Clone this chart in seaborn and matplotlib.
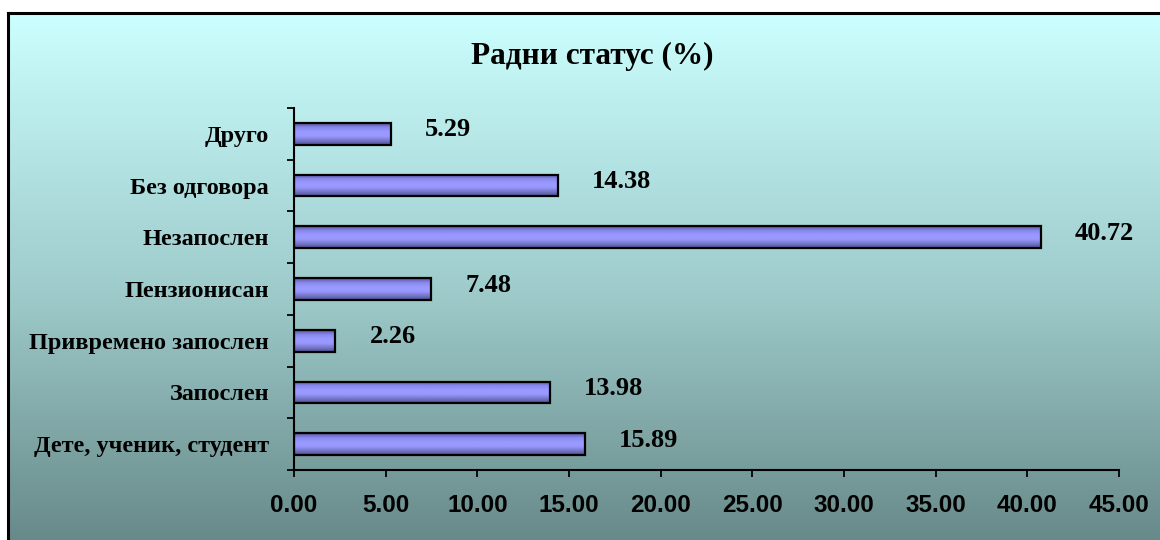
import numpy as np
import matplotlib
matplotlib.use('Agg')
import matplotlib.pyplot as plt
import seaborn as sns
from matplotlib.colors import LinearSegmentedColormap
from matplotlib.ticker import FixedLocator

# data (top to bottom as in the chart)
categories = ['Друго', 'Без одговора', 'Незапослен', 'Пензионисан',
              'Привремено запослен', 'Запослен', 'Дете, ученик, студент']
values = [5.29, 14.38, 40.72, 7.48, 2.26, 13.98, 15.89]
xticks = [0, 5, 10, 15, 20, 25, 30, 35, 40, 45]

sns.set_theme(style='white')
plt.rcParams['font.family'] = ['Liberation Serif', 'DejaVu Serif']
plt.rcParams['text.color'] = 'black'
plt.rcParams['xtick.color'] = 'black'
plt.rcParams['ytick.color'] = 'black'

fig = plt.figure(figsize=(11.6, 5.4), dpi=100)
fig.patch.set_facecolor('white')

# background panel with vertical gradient and black frame
bg = fig.add_axes([8 / 1160, -0.1, 1.0, 527 / 540 + 0.1])
bg_cmap = LinearSegmentedColormap.from_list('bg', ['#5c7b7b', '#9cc8c8', '#ccffff'])
grad = np.linspace(0, 1, 256).reshape(-1, 1)
bg.imshow(grad, cmap=bg_cmap, aspect='auto', origin='lower', extent=[0, 1, 0, 1])
bg.set_xticks([])
bg.set_yticks([])
for s in bg.spines.values():
    s.set_color('black')
    s.set_linewidth(2.2)
bg.set_zorder(0)

ax = fig.add_axes([294 / 1160, 1 - 470 / 540, (1119 - 294) / 1160, (470 - 108) / 540])
ax.set_facecolor('none')
ax.set_zorder(1)

sns.barplot(x=values, y=categories, orient='h', ax=ax, color='#9999ff',
            width=0.42, edgecolor='black', linewidth=1.6)

# shaded bar fill
bar_cmap = LinearSegmentedColormap.from_list(
    'bar', ['#55559a', '#8888ee', '#9999ff', '#9999ff', '#7777cc', '#50508f'])
bgrad = np.linspace(0, 1, 64).reshape(-1, 1)
for p in ax.patches:
    x0, y0 = p.get_x(), p.get_y()
    w, h = p.get_width(), p.get_height()
    im = ax.imshow(bgrad, cmap=bar_cmap, aspect='auto', origin='upper',
                   extent=[x0, x0 + w, y0 + h, y0], zorder=1.5)
    im.set_clip_path(p)
    p.set_zorder(2)
    p.set_facecolor('none')

ax.set_xlim(0, 45)
ax.set_ylim(len(categories) - 0.5, -0.5)

for i, v in enumerate(values):
    ax.annotate(f'{v:.2f}', xy=(v, i), xytext=(34, 4), textcoords='offset pixels',
                ha='left', va='center', fontsize=19, fontweight='bold', color='black')

ax.set_xticks(xticks)
ax.set_xticklabels([f'{t:.2f}' for t in xticks], fontsize=17.5, fontweight='bold',
                   family=['Liberation Sans', 'DejaVu Sans'])
ax.tick_params(axis='x', direction='out', length=5, width=1.3, color='black', pad=12,
               bottom=True)
ax.tick_params(axis='y', which='major', length=0, pad=18, labelsize=17.5)
for lbl in ax.get_yticklabels():
    lbl.set_fontweight('bold')
ax.yaxis.set_minor_locator(FixedLocator(np.arange(-0.5, len(categories), 1)))
ax.tick_params(axis='y', which='minor', direction='out', length=5, width=1.3,
               color='black', left=True)

for s in ['top', 'right']:
    ax.spines[s].set_visible(False)
for s in ['left', 'bottom']:
    ax.spines[s].set_color('black')
    ax.spines[s].set_linewidth(1.5)

ax.set_xlabel('')
ax.set_ylabel('')

fig.text(592 / 1160, 1 - 56 / 540, 'Радни статус (%)', ha='center', va='center',
         fontsize=22.5, fontweight='bold', color='black')

fig.savefig('out.png', dpi=100)
